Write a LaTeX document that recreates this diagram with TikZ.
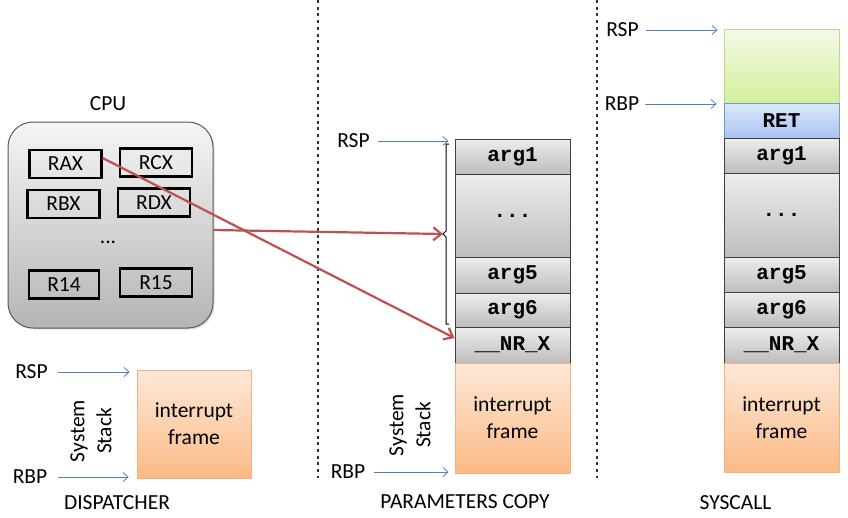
\documentclass[tikz,border=0pt]{standalone}
\usepackage{fontspec}
\setmainfont{Carlito}
\newfontfamily\monofont{Liberation Mono}
\usetikzlibrary{arrows.meta,shadows,calc}
\definecolor{redarr}{HTML}{C0504D}
\definecolor{bluearr}{HTML}{4F81BD}
\definecolor{cellborder}{HTML}{3F3F3F}
\definecolor{graytop}{HTML}{EDEDED}
\definecolor{graybot}{HTML}{BDBDBD}
\definecolor{cputop}{HTML}{F5F5F5}
\definecolor{cpubot}{HTML}{B5B5B5}
\definecolor{greentop}{HTML}{F4FAE8}
\definecolor{greenbot}{HTML}{D4EE9C}
\definecolor{greenborder}{HTML}{B9D98F}
\definecolor{bluetop}{HTML}{DDE9FB}
\definecolor{bluebot}{HTML}{A6C4F1}
\definecolor{blueborder}{HTML}{7099D2}
\definecolor{orangetop}{HTML}{FDE8D8}
\definecolor{orangebot}{HTML}{FBBA86}
\definecolor{orangeborder}{HTML}{F4B07E}
\definecolor{sepgray}{HTML}{2F2F2F}
\begin{document}
\begin{tikzpicture}[x=1pt,y=-1pt,
  every node/.style={inner sep=0pt, font=\fontsize{21.5}{27}\selectfont},
  monotxt/.style={font=\monofont\bfseries\fontsize{21}{25}\selectfont},
  reg/.style={draw=black, line width=2.2pt, minimum width=72pt, minimum height=28pt},
  cpubox/.style={draw=black!65, line width=1pt, rounded corners=25pt, top color=cputop, bottom color=cpubot,
     drop shadow={shadow xshift=1.5pt, shadow yshift=-1.5pt, opacity=0.25}, minimum width=205pt, minimum height=206pt},
  cell/.style={draw=cellborder, line width=1pt, top color=graytop, bottom color=graybot, minimum width=115pt,
     drop shadow={shadow xshift=1.2pt, shadow yshift=-1.2pt, opacity=0.2}, monotxt},
  greencell/.style={draw=greenborder, line width=0.8pt, top color=greentop, bottom color=greenbot, minimum width=115pt,
     drop shadow={shadow xshift=1.2pt, shadow yshift=-1.2pt, opacity=0.2}},
  bluecell/.style={draw=blueborder, line width=0.8pt, top color=bluetop, bottom color=bluebot, minimum width=115pt,
     drop shadow={shadow xshift=1.2pt, shadow yshift=-1.2pt, opacity=0.2}, monotxt},
  framecell/.style={draw=orangeborder, line width=0.8pt, top color=orangetop, bottom color=orangebot, minimum width=115pt,
     drop shadow={shadow xshift=1.2pt, shadow yshift=-1.2pt, opacity=0.2}, align=center},
  ptr/.style={draw=bluearr, line width=0.8pt, -{Straight Barb[length=5pt,width=9pt,line width=0.8pt]}},
  redarrow/.style={draw=redarr, line width=2.2pt, -{Straight Barb[length=8pt,width=13pt,line width=2.2pt]}},
  sep/.style={draw=sepgray, line width=1.2pt, dash pattern=on 3pt off 3.7pt},
  vtext/.style={rotate=90, align=center, font=\fontsize{21.5}{27}\selectfont}
]
\useasboundingbox (0,0) rectangle (848,517);

% separators
\coordinate (s1top) at (318,0);
\coordinate (s1bot) at (318,478);
\coordinate (s2top) at (597,0);
\coordinate (s2bot) at (597,478);
\draw[sep] (s1top) -- (s1bot);
\draw[sep] (s2top) -- (s2bot);

% ===== CPU =====
\node (cpulbl) at (108,104) {CPU};
\node[cpubox] (cpu) at (110.5,225) {};
\node[reg] (rax) at (65.5,164) {RAX};
\node[reg] (rcx) at (156,162.5) {RCX};
\node[reg] (rbx) at (63.5,204) {RBX};
\node[reg] (rdx) at (154,202.5) {RDX};
\node (rdots) at (108,242) {...};
\node[reg, minimum width=70pt] (r14) at (64,284.5) {R14};
\node[reg] (r15) at (156,282.5) {R15};

% ===== DISPATCHER =====
\node[framecell, minimum width=114pt, minimum height=108pt] (frameL) at (194,424) {interrupt\\frame};
\node (rspL) at (31.5,372) {RSP};
\node (rbpL) at (30,477) {RBP};
\draw[ptr, shorten <=10pt, shorten >=7pt] (rspL.east) -- (rspL.east -| frameL.west);
\draw[ptr, shorten <=11pt, shorten >=8pt] (rbpL.east) -- (rbpL.east -| frameL.west);
\node[vtext] (sysL) at (91,431) {System\\Stack};
\node (dispatcher) at (117,503) {DISPATCHER};

% ===== PARAMETERS COPY =====
\node[cell, minimum height=35pt] (a1M) at (512.5,156.5) {arg1};
\node[cell, minimum height=83pt] (dM) at (512.5,215.5) {...};
\node[cell, minimum height=36pt] (a5M) at (512.5,275) {arg5};
\node[cell, minimum height=34pt] (a6M) at (512.5,310) {arg6};
\node[cell, minimum height=36pt] (nrM) at (512.5,345) {\_\_NR\_X};
\node[framecell, minimum height=110pt] (frameM) at (512.5,418) {interrupt\\frame};
\node (rspM) at (353.5,141) {RSP};
\node (rbpM) at (348,472) {RBP};
\draw[ptr, shorten <=8pt, shorten >=6pt] (rspM.east) -- (rspM.east -| a1M.west);
\draw[ptr, shorten <=9pt, shorten >=6pt] (rbpM.east) -- (rbpM.east -| frameM.west);
\node[vtext] (sysM) at (410,425) {System\\Stack};
\node (paramcopy) at (465,502) {PARAMETERS COPY};

% brace
\coordinate (btip) at (443,234);
\draw[black, line width=1pt] (449,144) -- (446,144) -- (446,231) -- (btip) -- (446,237) -- (446,324) -- (449,324);

% ===== SYSCALL =====
\node[greencell, minimum height=74pt] (gR) at (781.5,66) {};
\node[bluecell, minimum height=35pt] (retR) at (781.5,120.5) {RET};
\node[cell, minimum height=35pt] (a1R) at (781.5,155.5) {arg1};
\node[cell, minimum height=84pt] (dR) at (781.5,215) {...};
\node[cell, minimum height=35pt] (a5R) at (781.5,274.5) {arg5};
\node[cell, minimum height=35pt] (a6R) at (781.5,309.5) {arg6};
\node[cell, minimum height=36pt] (nrR) at (781.5,345) {\_\_NR\_X};
\node[framecell, minimum height=109pt] (frameR) at (781.5,417.5) {interrupt\\frame};
\node (rspR) at (622.5,30) {RSP};
\node (rbpR) at (622,104) {RBP};
\draw[ptr, shorten <=7pt, shorten >=6pt] (rspR.east) -- (rspR.east -| gR.west);
\draw[ptr, shorten <=6pt, shorten >=7pt] (rbpR.east) -- (rbpR.east -| gR.west);
\node (syscall) at (735.5,503) {SYSCALL};

% ===== red arrows =====
\draw[redarrow] ([yshift=6pt]rax.east) -- ([yshift=7pt]nrM.west);
\draw[redarrow] ([yshift=-5pt]cpu.east) -- (btip);

\end{tikzpicture}
\end{document}
